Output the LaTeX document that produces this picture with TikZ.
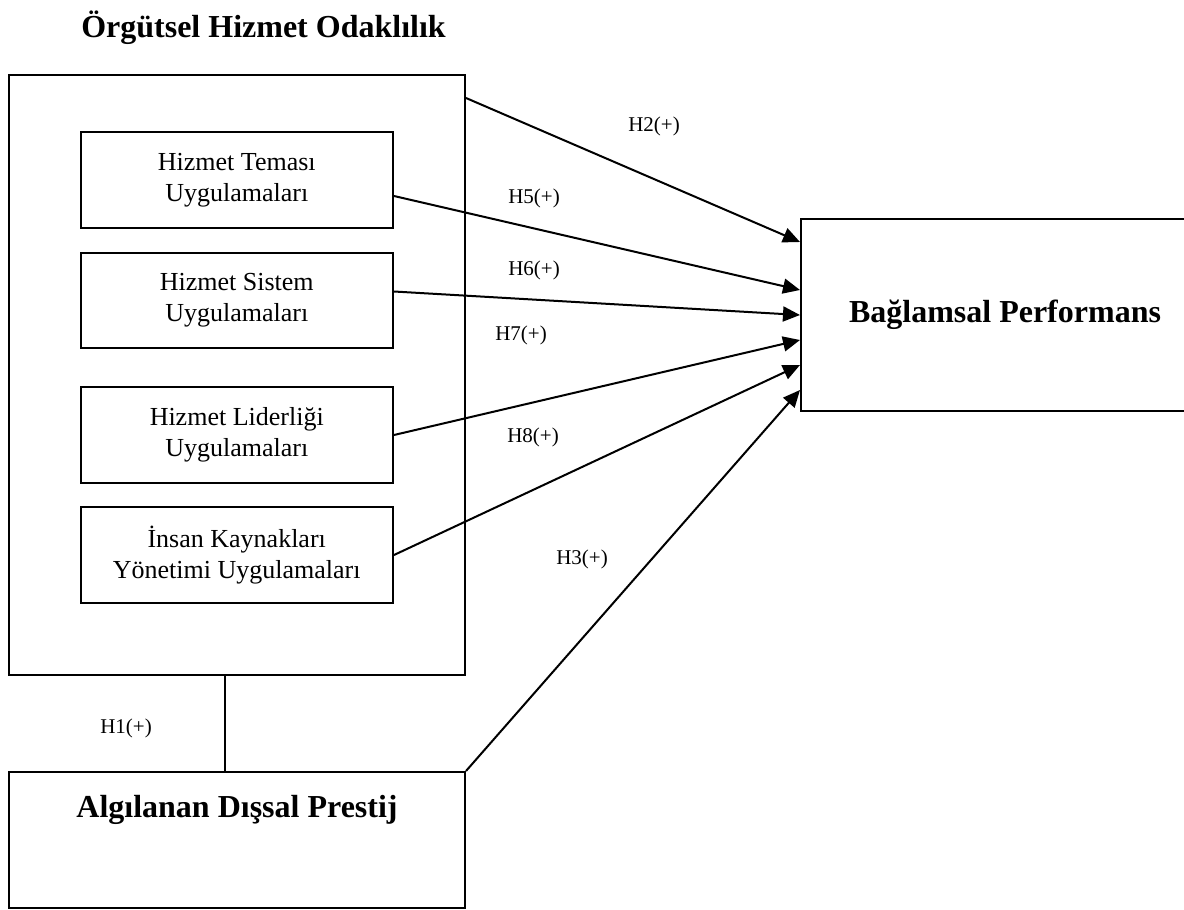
\documentclass[tikz,border=0pt]{standalone}
\usepackage{fontspec}
\setmainfont{Liberation Serif}
\usetikzlibrary{calc,arrows.meta}
\tikzset{
  box/.style={draw, line width=2pt, rectangle, inner sep=0pt, align=center, font=\fontsize{26}{31}\selectfont},
  bigtext/.style={font=\bfseries\fontsize{32}{38}\selectfont},
  hlabel/.style={font=\fontsize{21}{25}\selectfont},
  hyp/.style={line width=2pt, -{Triangle[length=17pt,width=15pt]}}
}

\begin{document}
\begin{tikzpicture}[x=1pt, y=-1pt]
		%%%%% START %%%%%
		\useasboundingbox (0,0) rectangle (1184,910);
		
		\node[bigtext, anchor=base] (odaktitle) at (263.5, 37) {Örgütsel Hizmet Odaklılık};
		\node[box, minimum width=456pt, minimum height=600pt] (odak) at (237, 375) {};
		
		\node[box, minimum width=312.5pt, minimum height=96pt] (temas) at (236.75, 180) {Hizmet Teması\\Uygulamaları};
		\node[box, minimum width=312.5pt, minimum height=95pt] (sistem) at (236.75, 300.5) {Hizmet Sistem\\Uygulamaları};
		\node[box, minimum width=312.5pt, minimum height=96pt] (lider) at (236.75, 435) {Hizmet Liderliği\\Uygulamaları};
		\node[box, minimum width=312.5pt, minimum height=96pt] (ik) at (236.75, 555) {İnsan Kaynakları\\Yönetimi Uygulamaları};
		
		\node[box, bigtext, minimum width=408pt, minimum height=192pt] (perf) at (1005, 315) {Bağlamsal Performans};
		
		\node[box, minimum width=456pt, minimum height=136pt] (prestij) at (237, 840) {};
		\node[bigtext, anchor=base] (prestijtext) at (237, 817) {Algılanan Dışsal Prestij};
		
		% H1 line
		\draw[line width=2pt] ($(odak.south)+(-12,0)$) -- ($(prestij.north)+(-12,0)$);
		
		% hypotheses
		\draw[hyp] ($(odak.north east)+(0,24)$) -- ($(perf.west)+(0,-73)$);
		\draw[hyp] ($(temas.east)+(0,16)$) -- ($(perf.west)+(0,-25)$);
		\draw[hyp] ($(sistem.east)+(0,-9)$) -- (perf.west);
		\draw[hyp] (lider.east) -- ($(perf.west)+(0,25)$);
		\draw[hyp] (ik.east) -- ($(perf.west)+(0,50)$);
		\draw[hyp] (prestij.north east) -- ($(perf.west)+(0,75)$);
		
		\node[hlabel] (h1) at (126, 728) {H1(+)};
		\node[hlabel] (h2) at (654, 126) {H2(+)};
		\node[hlabel] (h3) at (582, 559) {H3(+)};
		\node[hlabel] (h5) at (534, 198) {H5(+)};
		\node[hlabel] (h6) at (534, 270) {H6(+)};
		\node[hlabel] (h7) at (521, 335) {H7(+)};
		\node[hlabel] (h8) at (533, 437) {H8(+)};
		%%%%% END %%%%%
	\end{tikzpicture}
\end{document}
